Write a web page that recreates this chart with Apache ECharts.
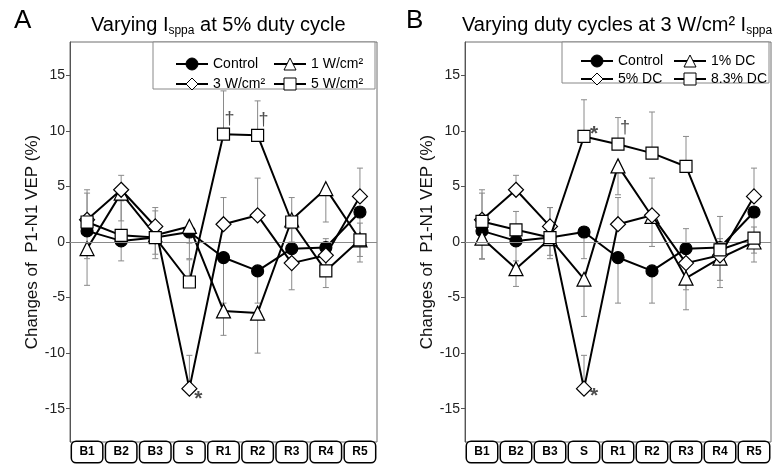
<!DOCTYPE html>
<html>
<head>
<meta charset="utf-8">
<script src="https://cdn.jsdelivr.net/npm/echarts@6/dist/echarts.min.js"></script>
<style>html,body{margin:0;padding:0;background:#fff}#c{width:783px;height:468px}</style>
</head>
<body>
<div id="c"></div>
<script>
// ---------- DATA ----------
const categories = ['B1','B2','B3','S','R1','R2','R3','R4','R5'];
const yTicks = [-15,-10,-5,0,5,10,15];

// Panel A: varying Isppa at 5% duty cycle
const controlVals = [1.0, 0.1, 0.4, 0.9, -1.4, -2.6, -0.6, -0.5, 2.7];
const controlErr  = [2.5, 1.8, 1.9, 2.4, 4.1, 2.9, 3.7, 3.6, 4.5];
const w1Vals = [-0.6, 4.4, 0.6, 1.4, -6.2, -6.4, 2.0, 4.8, 0.2];
const w1Err  = [3.3, 2.5, 1.7, 1.5, 2.2, 3.6, 2.0, 3.0, 1.5];
const w3Vals = [2.0, 4.7, 1.4, -13.2, 1.6, 2.4, -1.9, -1.2, 4.1];
const w3Err  = [2.7, 1.3, 1.7, 3.0, 2.4, 3.35, 3.1, 1.5, 2.55];
const w5Vals = [1.8, 0.6, 0.4, -3.6, 9.7, 9.6, 1.8, -2.6, 0.2];
const w5Err  = [2.6, 3.1, 2.4, 2.0, 3.9, 3.1, 2.2, 2.0, 1.5];

// Panel B: varying duty cycles at 3 W/cm2 Isppa
const dc1Vals = [0.35, -2.4, 0.3, -3.35, 6.85, 2.3, -3.25, -1.45, 0.0];
const dc1Err  = [1.9, 1.6, 1.5, 3.35, 2.6, 2.7, 2.85, 2.0, 1.0];
const dc5Vals = [2.0, 4.7, 1.4, -13.2, 1.6, 2.4, -1.9, -1.2, 4.1];
const dc5Err  = [2.7, 1.3, 1.7, 3.0, 2.4, 3.35, 3.1, 1.5, 2.55];
const dc83Vals = [1.85, 1.1, 0.4, 9.5, 8.8, 8.0, 6.8, -0.7, 0.35];
const dc83Err  = [2.55, 1.65, 2.7, 3.3, 2.4, 3.7, 2.7, 3.0, 1.0];

// significance marks: [category, value, text]
const annotA = [['S', -13.2, '*'], ['R1', 9.7, '\u2020'], ['R2', 9.6, '\u2020']];
const annotB = [['S', 9.5, '*'], ['R1', 8.8, '\u2020'], ['S', -13.2, '*']];

// ---------- STYLE / LAYOUT ----------
const annotOffsetA = [[9, 11], [6, -15], [6, -15]];
const annotOffsetB = [[10, -2], [7, -16], [10, 8]];

const symStyles = {
  control: {symbol: 'circle', size: 12, fill: '#000', dir: -1},
  tri:     {symbol: 'triangle', size: 14, fill: '#fff', dir: -1},
  dia:     {symbol: 'diamond', size: 15, fill: '#fff', dir: 1},
  sq:      {symbol: 'rect', size: 12, fill: '#fff', dir: 1}
};

const panels = [
  {gridLeft: 70, width: 307,
   defs: [
     ['Control', controlVals, controlErr, 'control'],
     ['1 W/cm\u00b2', w1Vals, w1Err, 'tri'],
     ['3 W/cm\u00b2', w3Vals, w3Err, 'dia'],
     ['5 W/cm\u00b2', w5Vals, w5Err, 'sq']
   ],
   annot: annotA, annotOff: annotOffsetA,
   legendPos: [[170, 52], [268, 52], [170, 72], [268, 72]]
  },
  {gridLeft: 465, width: 306,
   defs: [
     ['Control', controlVals, controlErr, 'control'],
     ['1% DC', dc1Vals, dc1Err, 'tri'],
     ['5% DC', dc5Vals, dc5Err, 'dia'],
     ['8.3% DC', dc83Vals, dc83Err, 'sq']
   ],
   annot: annotB, annotOff: annotOffsetB,
   legendPos: [[575, 49], [668, 49], [575, 67], [668, 67]]
  }
];

const ff = 'Liberation Sans, Arial, sans-serif';
const grids = [], xAxes = [], yAxes = [], series = [], legends = [];

panels.forEach((p, pi) => {
  grids.push({left: p.gridLeft, top: 42, width: p.width, height: 400, show: true,
    borderColor: '#6e6e6e', borderWidth: 1, backgroundColor: 'transparent'});
  xAxes.push({type: 'category', gridIndex: pi, data: categories, boundaryGap: true,
    axisLine: {show: false}, axisTick: {show: false},
    axisLabel: {margin: 0, interval: 0, fontSize: 12, fontWeight: 'bold', color: '#000',
      fontFamily: ff,
      backgroundColor: '#fff', borderColor: '#000', borderWidth: 1.5, borderRadius: 4,
      width: 30, height: 20, lineHeight: 20, align: 'center', verticalAlign: 'top'}});
  yAxes.push({type: 'value', gridIndex: pi, min: -18, max: 18,
    name: 'Changes of  P1-N1 VEP (%)', nameLocation: 'middle', nameGap: 29,
    nameTextStyle: {fontSize: 17, color: '#111', fontFamily: ff},
    axisLine: {show: true, lineStyle: {color: '#555', width: 1}},
    axisTick: {show: true, length: 4, customValues: yTicks, lineStyle: {color: '#555'}},
    axisLabel: {customValues: yTicks, fontSize: 14, color: '#222', margin: 5, fontFamily: ff},
    splitLine: {show: false}});

  p.defs.forEach((d, si) => {
    const [name, vals, errs, key] = d;
    const st = symStyles[key];
    series.push({type: 'custom', xAxisIndex: pi, yAxisIndex: pi, silent: true, z: 1,
      data: vals.map((v, i) => [i, v, errs[i] * st.dir]),
      renderItem: function (params, api) {
        const i = api.value(0), v = api.value(1), e = api.value(2);
        const p0 = api.coord([i, v]);
        const p1 = api.coord([i, v + e]);
        const st2 = {stroke: '#8a8a8a', lineWidth: 1};
        return {type: 'group', children: [
          {type: 'line', shape: {x1: p0[0], y1: p0[1], x2: p1[0], y2: p1[1]}, style: st2},
          {type: 'line', shape: {x1: p1[0] - 3, y1: p1[1], x2: p1[0] + 3, y2: p1[1]}, style: st2}
        ]};
      }});
    const s = {type: 'line', name: name, xAxisIndex: pi, yAxisIndex: pi, data: vals,
      symbol: st.symbol, symbolSize: st.size, showAllSymbol: true, z: 3 + si,
      lineStyle: {color: '#000', width: 2},
      itemStyle: {color: st.fill, borderColor: '#000', borderWidth: 1.2},
      emphasis: {disabled: true}, animation: false};
    if (si === 0) {
      s.markLine = {silent: true, symbol: 'none', label: {show: false}, animation: false,
        lineStyle: {color: '#8a8a8a', width: 1, type: 'solid'}, data: [{yAxis: 0}]};
    }
    series.push(s);
  });

  series.push({type: 'scatter', xAxisIndex: pi, yAxisIndex: pi, symbolSize: 0, z: 10, silent: true,
    data: p.annot.map((a, k) => ({value: [categories.indexOf(a[0]), a[1]],
      label: {show: true, formatter: a[2], offset: p.annotOff[k],
        fontWeight: a[2] === '*' ? 'bold' : 'normal', fontSize: a[2] === '*' ? 21 : 18}})),
    label: {show: true, position: 'inside', color: '#222', fontFamily: ff}});

  p.defs.forEach((d, si) => {
    legends.push({data: [d[0]], left: p.legendPos[si][0], top: p.legendPos[si][1], z: 20,
      itemWidth: 32, itemHeight: 15, itemGap: 0, selectedMode: false,
      itemStyle: {borderWidth: 1},
      textStyle: {fontSize: 14, color: '#000', fontFamily: ff}});
  });
});

const option = {
  animation: false,
  backgroundColor: '#fff',
  title: [
    {text: 'A', left: 9, top: 3, textStyle: {fontSize: 26, fontWeight: 'normal', color: '#000', fontFamily: ff}},
    {text: 'B', left: 401, top: 3, textStyle: {fontSize: 26, fontWeight: 'normal', color: '#000', fontFamily: ff}},
    {text: '{a|Varying I}{s|sppa}{a| at 5% duty cycle}', left: 86, top: 8,
      textStyle: {fontWeight: 'normal', rich: {a: {fontSize: 20, fontWeight: 'normal', color: '#000', fontFamily: ff},
        s: {fontSize: 12, fontWeight: 'normal', color: '#000', fontFamily: ff, padding: [12, 0, 0, 0]}}}},
    {text: '{a|Varying duty cycles at 3 W/cm\u00b2 I}{s|sppa}', left: 457, top: 8,
      textStyle: {fontWeight: 'normal', rich: {a: {fontSize: 20, fontWeight: 'normal', color: '#000', fontFamily: ff},
        s: {fontSize: 12, fontWeight: 'normal', color: '#000', fontFamily: ff, padding: [12, 0, 0, 0]}}}}
  ],
  graphic: [
    {type: 'rect', z: 0, shape: {x: 153, y: 42, width: 222, height: 47}, style: {fill: '#fff', stroke: '#888', lineWidth: 1}},
    {type: 'rect', z: 0, shape: {x: 562, y: 42, width: 207, height: 41}, style: {fill: '#fff', stroke: '#888', lineWidth: 1}}
  ],
  legend: legends,
  grid: grids,
  xAxis: xAxes,
  yAxis: yAxes,
  series: series
};

const chart = echarts.init(document.getElementById('c'));
chart.setOption(option);
</script>
</body>
</html>
